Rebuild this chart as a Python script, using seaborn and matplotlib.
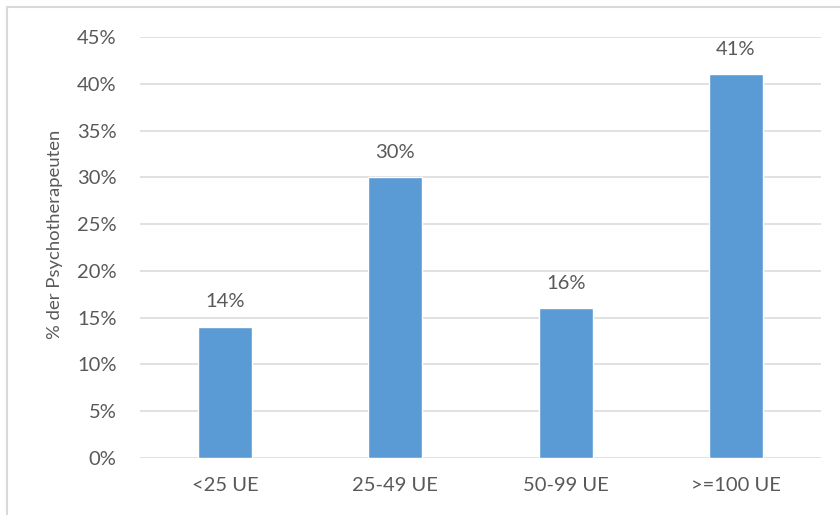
import matplotlib
matplotlib.use("Agg")
import matplotlib.pyplot as plt
from matplotlib.patches import Rectangle
from matplotlib.ticker import MultipleLocator, FuncFormatter
import pandas as pd
import seaborn as sns

# Share of psychotherapists by number of training units (UE)
categories = ["<25 UE", "25-49 UE", "50-99 UE", ">=100 UE"]
shares = [0.14, 0.30, 0.16, 0.41]
y_label = "% der Psychotherapeuten"

df = pd.DataFrame({"Kategorie": categories, "Anteil": shares})

sns.set_theme(style="white")
plt.rcParams["font.family"] = ["Lato", "DejaVu Sans"]

text_color = "#595959"
grid_color = "#D9D9D9"
bar_color = "#5B9BD5"

fig = plt.figure(figsize=(8.4, 5.15), dpi=100)
fig.patch.set_facecolor("white")
ax = fig.add_axes([0.1667, 0.1107, 0.8107, 0.8175])

sns.barplot(data=df, x="Kategorie", y="Anteil", color=bar_color,
            saturation=1, width=0.317, ax=ax, zorder=3)

ax.set_ylim(0, 0.45)
ax.set_xlim(-0.5, len(categories) - 0.5)
ax.yaxis.set_major_locator(MultipleLocator(0.05))
ax.yaxis.set_major_formatter(FuncFormatter(lambda v, _: f"{v*100:.0f}%"))
ax.grid(axis="y", color=grid_color, linewidth=1.1, zorder=0)
ax.set_axisbelow(True)
for s in ax.spines.values():
    s.set_visible(False)

ax.tick_params(axis="both", length=0, labelsize=14.5, labelcolor=text_color)
ax.tick_params(axis="y", pad=17)
ax.tick_params(axis="x", pad=14)
ax.set_xlabel("")
ax.set_ylabel(y_label, fontsize=13.3, color=text_color)
ax.yaxis.set_label_coords(-0.113, 0.532)

for container in ax.containers:
    ax.bar_label(container, labels=[f"{v*100:.0f}%" for v in container.datavalues],
                 padding=12, fontsize=14.5, color=text_color)

# light frame around the chart area
fig.patches.append(Rectangle((7 / 840, -0.05), 1.0, 1 - 7 / 515 + 0.05,
                             transform=fig.transFigure, fill=False,
                             edgecolor="#D9D9D9", linewidth=1.5))

fig.savefig("out.png", dpi=100, facecolor="white")
